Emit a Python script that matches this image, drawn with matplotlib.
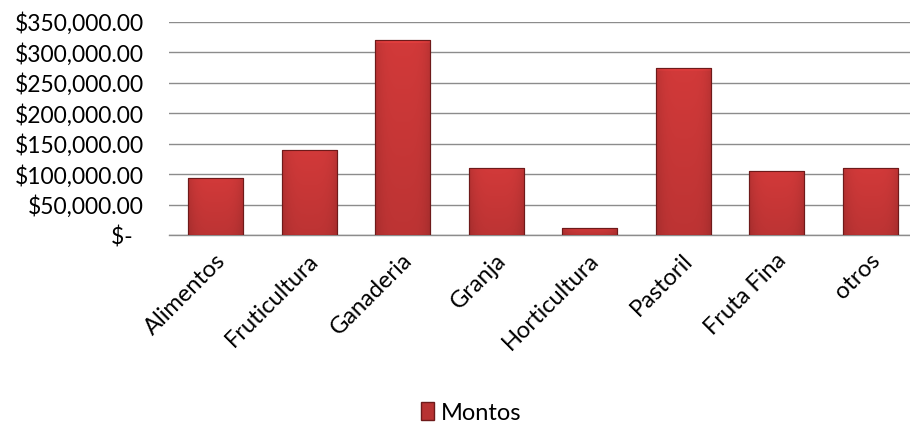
import numpy as np
import matplotlib
matplotlib.use("Agg")
import matplotlib.pyplot as plt
import matplotlib.transforms as mtrans
from matplotlib.patches import Patch

# datos
categorias = ["Alimentos", "Fruticultura", "Ganaderia", "Granja", "Horticultura",
              "Pastoril", "Fruta Fina", "otros"]
montos = [93000, 140000, 320000, 110000, 12000, 274000, 105000, 110000]
y_ticks = [0, 50000, 100000, 150000, 200000, 250000, 300000, 350000]
y_labels = ["$-  ", "$50,000.00", "$100,000.00", "$150,000.00", "$200,000.00",
            "$250,000.00", "$300,000.00", "$350,000.00"]
serie = "Montos"

plt.rcParams['font.family'] = ['Lato', 'DejaVu Sans']

fig = plt.figure(figsize=(9.1, 4.25), dpi=100)
ax = fig.add_axes([169/910, 1 - 235/425, (917 - 169)/910, (235 - 22)/425])

x = np.arange(len(categorias))
bars = ax.bar(x, montos, width=0.59, color="#bd3636", edgecolor="#6e1a1a",
              linewidth=0.8, zorder=3)

# degradado tipo "bisel" de Excel dentro de cada barra
gx = np.linspace(-1, 1, 60)
gy = np.linspace(0, 1, 200)
GX, GY = np.meshgrid(gx, gy)
shade = 0.76 + 0.12 * (1 - np.abs(GX) ** 4) + 0.10 * GY
shade[GY > 0.985] += 0.08
base = np.array([0.84, 0.23, 0.23])
img = np.clip(shade[..., None] * base[None, None, :], 0, 1)
for b in bars:
    bx, by = b.get_x(), b.get_y()
    w, h = b.get_width(), b.get_height()
    im = ax.imshow(img, extent=(bx, bx + w, by, by + h), origin="lower",
                   aspect="auto", zorder=3.5, interpolation="bilinear")
    im.set_clip_path(b)
    ax.bar(bx + w/2, h, width=w, fill=False, edgecolor="#6e1a1a",
           linewidth=0.8, zorder=4)

ax.set_xlim(-0.5, len(categorias) - 0.5)
ax.set_ylim(0, 350000)
ax.set_yticks(y_ticks)
ax.set_yticklabels(y_labels, fontsize=16.5)
ax.set_xticks(x)
ax.set_xticklabels(categorias, fontsize=17, rotation=45, ha="right",
                   va="center", rotation_mode="anchor")
ax.tick_params(axis="y", length=0, pad=18)
ax.tick_params(axis="x", length=0, pad=16)
shift = mtrans.ScaledTranslation(6/100, 0, fig.dpi_scale_trans)
for lbl in ax.get_xticklabels():
    lbl.set_transform(lbl.get_transform() + shift)
ax.yaxis.grid(True, color="#8c8c8c", linewidth=1.0, zorder=0)
ax.set_axisbelow(True)
for s in ["top", "right", "left"]:
    ax.spines[s].set_visible(False)
ax.spines["bottom"].set_color("#8c8c8c")
ax.spines["bottom"].set_linewidth(1.0)

handle = Patch(facecolor="#b83232", edgecolor="#6e1a1a", label=serie)
fig.legend(handles=[handle], loc="center", bbox_to_anchor=(471/910, 1 - 413/425),
           frameon=False, fontsize=17, handlelength=0.55, handleheight=0.8,
           handletextpad=0.3)

fig.savefig("out.png", dpi=100)
